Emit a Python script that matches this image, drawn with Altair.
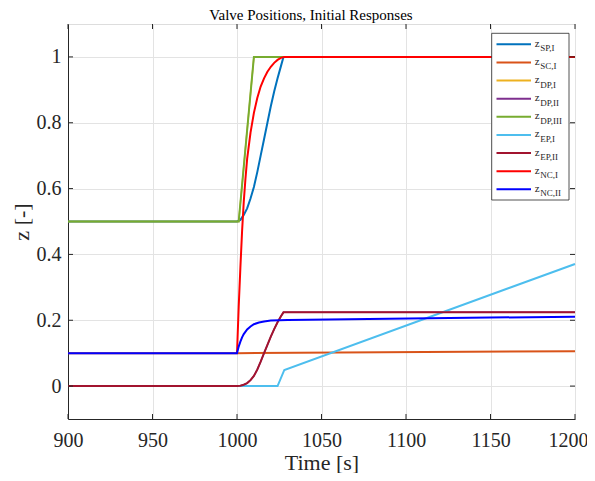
import altair as alt
import pandas as pd

# ---------------- data ----------------
names = ["SP,I", "SC,I", "DP,I", "DP,II", "DP,III", "EP,I", "EP,II", "NC,I", "NC,II"]
colors = ["#0072BD", "#D95319", "#EDB120", "#7E2F8E", "#77AC30",
          "#4DBEEE", "#A2142F", "#FF0000", "#0000FF"]
widths = [2, 2, 1.5, 1.5, 2, 2, 2, 2, 2]

sp_t = [900, 1000, 1002, 1004, 1006, 1008, 1010, 1012, 1014, 1016, 1018, 1020, 1022, 1024, 1026, 1027.5, 1200]
sp_z = [0.5, 0.5, 0.505, 0.52, 0.54, 0.57, 0.605, 0.65, 0.70, 0.75, 0.80, 0.85, 0.895, 0.935, 0.972, 1.0, 1.0]

sc_t = [900, 1000, 1200]
sc_z = [0.1, 0.1, 0.106]

dp1_t = [900, 1001, 1010, 1200]
dp1_z = [0.5, 0.5, 1.0, 1.0]

dp2_t = [900, 1000, 1002, 1004, 1006, 1008, 1010, 1012, 1014, 1016, 1018, 1020, 1022, 1024, 1026, 1027.5, 1200]
dp2_z = [0.0, 0.0, 0.001, 0.004, 0.009, 0.018, 0.031, 0.05, 0.074, 0.10, 0.125, 0.15, 0.173, 0.194, 0.212, 0.224, 0.224]

dp3_t = [900, 1001, 1010, 1200]
dp3_z = [0.5, 0.5, 1.0, 1.0]

ep1_t = [900, 1024, 1028, 1200]
ep1_z = [0.0, 0.0, 0.049, 0.371]

ep2_t = [900, 1000, 1002, 1004, 1006, 1008, 1010, 1012, 1014, 1016, 1018, 1020, 1022, 1024, 1026, 1027.5, 1200]
ep2_z = [0.0, 0.0, 0.001, 0.004, 0.009, 0.018, 0.031, 0.05, 0.074, 0.10, 0.125, 0.15, 0.173, 0.194, 0.212, 0.224, 0.224]

nc1_t = [1000, 1001, 1002, 1003, 1004, 1005, 1006, 1008, 1010, 1012, 1014, 1016, 1018, 1020, 1022, 1024, 1026, 1028, 1200]
nc1_z = [0.1, 0.24, 0.36, 0.47, 0.56, 0.63, 0.69, 0.77, 0.83, 0.875, 0.91, 0.935, 0.955, 0.97, 0.982, 0.991, 0.997, 1.0, 1.0]

nc2_t = [900, 1000, 1001, 1002, 1003, 1004, 1006, 1008, 1010, 1013, 1016, 1020, 1025, 1030, 1200]
nc2_z = [0.1, 0.1, 0.12, 0.135, 0.148, 0.158, 0.172, 0.181, 0.188, 0.193, 0.196, 0.199, 0.2, 0.201, 0.211]

series = [(sp_t, sp_z), (sc_t, sc_z), (dp1_t, dp1_z), (dp2_t, dp2_z), (dp3_t, dp3_z),
          (ep1_t, ep1_z), (ep2_t, ep2_z), (nc1_t, nc1_z), (nc2_t, nc2_z)]

x_ticks = [900, 950, 1000, 1050, 1100, 1150, 1200]
y_ticks = [0, 0.2, 0.4, 0.6, 0.8, 1]

title_text = "Valve Positions, Initial Responses"

# ---------------- styling ----------------
W, H = 507, 395
FONT = "Liberation Serif"
AX = "#262626"
GRID = "#e3e3e3"

xs = alt.Scale(domain=[900, 1200], nice=False, zero=False)
ys = alt.Scale(domain=[-0.1, 1.1], nice=False, zero=False)

xaxis = alt.Axis(values=x_ticks, title="Time [s]", format="d", labelFont=FONT, labelFontSize=20,
                 titleFont=FONT, titleFontSize=22, titleFontWeight="normal",
                 grid=True, gridColor=GRID, ticks=False, tickSize=0,
                 labelBaseline="alphabetic", labelPadding=27,
                 labelOffset={"expr": "datum.value == 1200 ? -7 : 0"},
                 titleBaseline="alphabetic", titleX=W / 2, titleY=50, titleAlign="center",
                 domainColor=AX, labelColor=AX, titleColor=AX,
                 labelFlush=False, labelOverlap=False)
yaxis = alt.Axis(values=y_ticks, title="z [-]", format="~g", labelFont=FONT, labelFontSize=20,
                 titleFont=FONT, titleFontSize=22, titleFontWeight="normal",
                 grid=True, gridColor=GRID, ticks=False, tickSize=0, labelPadding=7,
                 titleBaseline="alphabetic", titleAngle=270, titleX=-40, titleY=H / 2,
                 titleAlign="center",
                 domainColor=AX, labelColor=AX, titleColor=AX,
                 labelFlush=False, labelOverlap=False)

main_layers = []
for i, (t, z) in enumerate(series):
    df = pd.DataFrame({"t": t, "z": z})
    main_layers.append(
        alt.Chart(df).mark_line(color=colors[i], strokeWidth=widths[i]).encode(
            x=alt.X("t:Q", scale=xs, axis=xaxis),
            y=alt.Y("z:Q", scale=ys, axis=yaxis),
        )
    )

# inward ticks (MATLAB style)
xt = pd.DataFrame({"tx": x_ticks})
yt = pd.DataFrame({"ty": y_ticks})
tick_style = dict(color=AX, strokeWidth=1)
main_layers += [
    alt.Chart(xt).mark_rule(**tick_style).encode(x=alt.X("tx:Q", scale=xs, axis=xaxis), y=alt.value(H), y2=alt.value(H - 5)),
    alt.Chart(xt).mark_rule(**tick_style).encode(x=alt.X("tx:Q", scale=xs, axis=xaxis), y=alt.value(0), y2=alt.value(5)),
    alt.Chart(yt).mark_rule(**tick_style).encode(y=alt.Y("ty:Q", scale=ys, axis=yaxis), x=alt.value(0), x2=alt.value(5)),
    alt.Chart(yt).mark_rule(**tick_style).encode(y=alt.Y("ty:Q", scale=ys, axis=yaxis), x=alt.value(W), x2=alt.value(W - 5)),
]
main = alt.layer(*main_layers)

# ---------------- custom legend with subscripts + title ----------------
leg = pd.DataFrame({"row": list(range(len(names))), "sub": names, "color": colors,
                    "z": ["z"] * len(names)})
ly = alt.Y("row:Q", scale=alt.Scale(domain=[0, 8], range=[20.3, 165.3]), axis=None)

box = alt.Chart(pd.DataFrame({"a": [0]})).mark_rect(fill="white", stroke=AX, strokeWidth=0.8).encode(
    x=alt.value(423.7), x2=alt.value(501), y=alt.value(9.3), y2=alt.value(176))
swatch = alt.Chart(leg).mark_rule(strokeWidth=2).encode(
    x=alt.value(428.5), x2=alt.value(463), y=ly, color=alt.Color("color:N", scale=None))
ztext = alt.Chart(leg).mark_text(align="left", baseline="alphabetic", dy=2.5, font=FONT,
                                 fontSize=11, color=AX).encode(x=alt.value(466.7), y=ly, text="z:N")
subtext = alt.Chart(leg).mark_text(align="left", baseline="alphabetic", dy=7, font=FONT,
                                   fontSize=9, color=AX).encode(x=alt.value(472.3), y=ly, text="sub:N")
title = alt.Chart(pd.DataFrame({"title": [title_text]})).mark_text(
    align="center", baseline="alphabetic", font=FONT, fontSize=15, color="#000000").encode(
    x=alt.value(243), y=alt.value(-4.5), text="title:N")
legend = alt.layer(box, swatch, ztext, subtext, title)

chart = alt.layer(main, legend).resolve_scale(y="independent").properties(
    width=W, height=H,
    padding={"left": 60, "top": 16, "right": 12, "bottom": 54},
    autosize=alt.AutoSizeParams(type="none"),
).configure_view(stroke=AX, strokeWidth=1).configure_axis(
    labelFont=FONT, titleFont=FONT
).configure_text(font=FONT).configure(background="white", font=FONT)

chart.save("out.html", embed_options={"renderer": "svg", "actions": False})
